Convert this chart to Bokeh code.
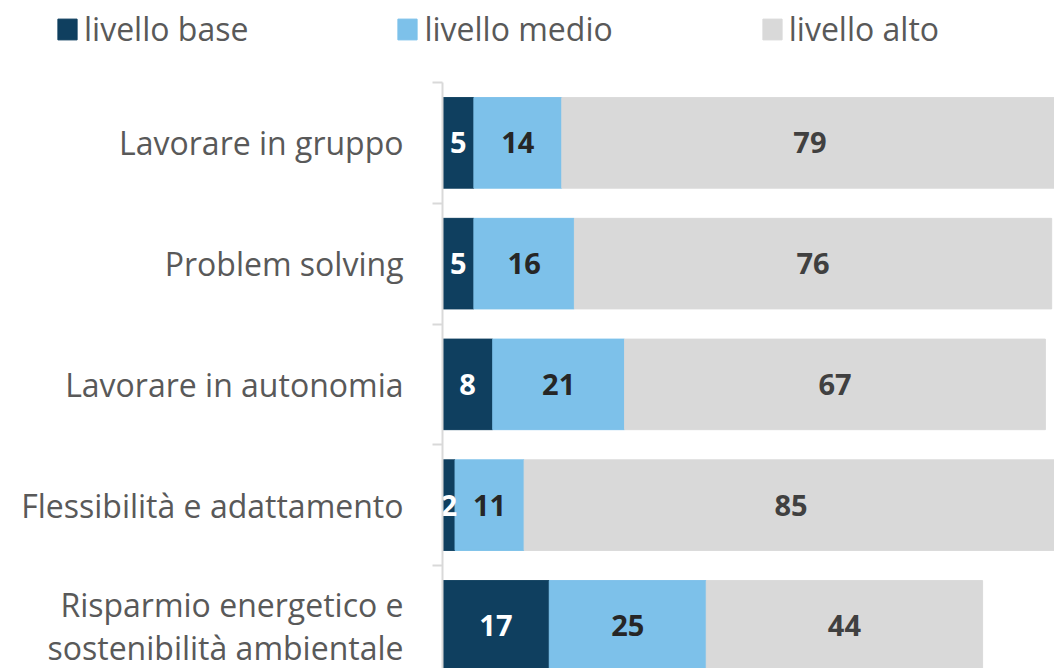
from bokeh.plotting import figure
from bokeh.models import ColumnDataSource, Range1d, FixedTicker, LinearAxis
from bokeh.embed import file_html
from bokeh.resources import INLINE
from bokeh.core.properties import value

# ---- data ----
categories = [
    "Lavorare in gruppo",
    "Problem solving",
    "Lavorare in autonomia",
    "Flessibilità e adattamento",
    "Risparmio energetico e\nsostenibilità ambientale",
]
series_names = ["livello base", "livello medio", "livello alto"]
base = [5, 5, 8, 2, 17]
medio = [14, 16, 21, 11, 25]
alto = [79, 76, 67, 85, 44]

colors = ["#0F3F5F", "#7DC1EA", "#D9D9D9"]
label_colors = ["#FFFFFF", "#262626", "#404040"]

# ---- layout ----
W, H = 1054, 668
ZERO_X = 442          # pixel where value 0 lies
TOP_Y = 82            # pixel of first band boundary
PX_PER_UNIT = 6.28
BAND_PX = 120.75

x_start = -ZERO_X / PX_PER_UNIT
x_end = (W - ZERO_X) / PX_PER_UNIT
y_top = -TOP_Y / BAND_PX
y_bottom = (H - TOP_Y) / BAND_PX

p = figure(width=W, height=H, output_backend="svg", toolbar_location=None,
           x_range=Range1d(x_start, x_end), y_range=Range1d(y_bottom, y_top),
           x_axis_location=None, y_axis_location=None,
           min_border_left=0, min_border_right=0,
           min_border_top=0, min_border_bottom=0)
p.outline_line_color = None
p.grid.visible = False

n = len(categories)
centers = [i + 0.5 for i in range(n)]
data = dict(y=centers, cat=categories)
for name, vals in zip(series_names, [base, medio, alto]):
    data[name] = vals
src = ColumnDataSource(data)

p.hbar_stack(series_names, y="y", height=0.75, color=colors, source=src,
             legend_label=series_names)

# data labels
lefts = [0] * n
for vals, tc in zip([base, medio, alto], label_colors):
    xc = [l + v / 2 for l, v in zip(lefts, vals)]
    lsrc = ColumnDataSource(dict(x=xc, y=centers, t=[str(v) for v in vals]))
    p.text(x="x", y="y", text="t", source=lsrc, text_align="center",
           text_baseline="middle", text_color=tc,
           text_font=value("Open Sans"), text_font_style="bold",
           text_font_size="29px")
    lefts = [l + v for l, v in zip(lefts, vals)]

# y axis at value 0: labels at band centres, tick marks at band boundaries
ax = LinearAxis(fixed_location=0)
ax.ticker = FixedTicker(ticks=centers, minor_ticks=[float(i) for i in range(n)])
ax.major_label_overrides = {c: lab for c, lab in zip(centers, categories)}
ax.major_tick_line_color = None
ax.major_tick_out = 0
ax.major_tick_in = 0
ax.minor_tick_line_color = "#D9D9D9"
ax.minor_tick_line_width = 2
ax.minor_tick_out = 10
ax.minor_tick_in = 0
ax.axis_line_color = "#D9D9D9"
ax.axis_line_width = 2
ax.bounds = (0, y_bottom)
ax.major_label_standoff = 29
ax.major_label_text_font = "Open Sans"
ax.major_label_text_font_size = "32px"
ax.major_label_text_color = "#595959"
ax.major_label_text_line_height = 1.0
p.add_layout(ax, "left")

# legend
lg = p.legend[0]
lg.orientation = "horizontal"
lg.location = (55, 618)
lg.border_line_color = None
lg.background_fill_alpha = 0
lg.padding = 0
lg.margin = 0
lg.spacing = 147
lg.glyph_width = 24
lg.glyph_height = 26
lg.label_standoff = 5
lg.label_text_font = "Open Sans"
lg.label_text_font_size = "32px"
lg.label_text_color = "#595959"

open("out.html", "w").write(file_html(p, INLINE))
